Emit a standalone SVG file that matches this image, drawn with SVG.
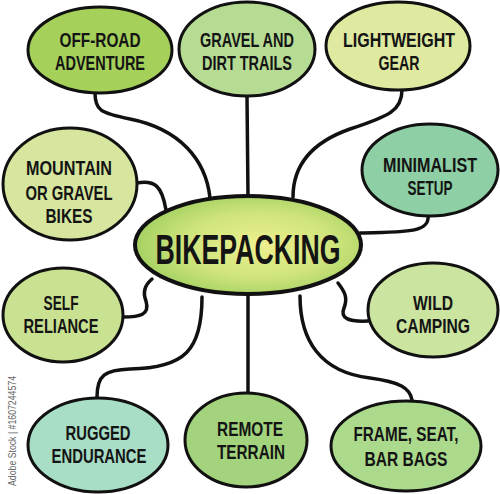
<svg xmlns="http://www.w3.org/2000/svg" width="500" height="494" viewBox="0 0 500 494">
<defs>
<radialGradient id="cg" cx="0.55" cy="0.5" r="0.6">
<stop offset="0" stop-color="#eef08e"/>
<stop offset="0.55" stop-color="#cfe47c"/>
<stop offset="1" stop-color="#9ccd5c"/>
</radialGradient>
</defs>
<style>
.n{stroke:#111;stroke-width:3}
.t{font-family:"Liberation Sans","DejaVu Sans",sans-serif;font-weight:bold;font-size:20px;fill:#141414;text-anchor:middle}
.c{fill:none;stroke:#111;stroke-width:3.5;stroke-linecap:round}
</style>
<rect width="500" height="494" fill="#fff"/>
<g id="connectors">
<path class="c" d="M95,93 C95,110 100,113 130,119 C180,129 206,160 210,198"/>
<path class="c" d="M247,97 L248,196"/>
<path class="c" d="M402,90 C402,110 390,116 350,129 C310,143 293,166 293,197"/>
<path class="c" d="M428,215 C430,232 410,232 360,233"/>
<path class="c" d="M137,183 C155,180 162,186 166,210"/>
<path class="c" d="M123,317 C140,317 150,315 146,301 C142,291 146,284 152,279"/>
<path class="c" d="M97,397 C97,375 105,370 130,369 C185,368 202,350 202,297"/>
<path class="c" d="M248,295 L248,393"/>
<path class="c" d="M300,296 C300,340 320,372 370,378 C400,382 410,388 412,400"/>
<path class="c" d="M338,283 C345,292 348,298 344,308 C340,318 348,322 368,321"/>
</g>
<g id="center">
<ellipse cx="248" cy="245" rx="113" ry="49" fill="url(#cg)" stroke="#111" stroke-width="4"/>
<text x="248" y="264" style="font-family:'Liberation Sans','DejaVu Sans',sans-serif;font-weight:bold;font-size:42px;fill:#141414;text-anchor:middle" textLength="185" lengthAdjust="spacingAndGlyphs">BIKEPACKING</text>
</g>
<g id="offroad">
<ellipse class="n" cx="100" cy="50" rx="72" ry="43" fill="#a5d05a"/>
<text class="t" x="100" y="47" textLength="81" lengthAdjust="spacingAndGlyphs">OFF-ROAD</text>
<text class="t" x="100" y="70" textLength="90" lengthAdjust="spacingAndGlyphs">ADVENTURE</text>
</g>
<g id="gravel">
<ellipse class="n" cx="247" cy="49" rx="68" ry="47" fill="#b6dc94"/>
<text class="t" x="247" y="47" textLength="94" lengthAdjust="spacingAndGlyphs">GRAVEL AND</text>
<text class="t" x="247" y="70" textLength="90" lengthAdjust="spacingAndGlyphs">DIRT TRAILS</text>
</g>
<g id="lightweight">
<ellipse class="n" cx="398" cy="46" rx="72" ry="44" fill="#dfe9a0"/>
<text class="t" x="399" y="47" textLength="112" lengthAdjust="spacingAndGlyphs">LIGHTWEIGHT</text>
<text class="t" x="399" y="70" textLength="41" lengthAdjust="spacingAndGlyphs">GEAR</text>
</g>
<g id="minimalist">
<ellipse class="n" cx="430" cy="170" rx="68" ry="46" fill="#8ecfa5"/>
<text class="t" x="430" y="172" textLength="94" lengthAdjust="spacingAndGlyphs">MINIMALIST</text>
<text class="t" x="430" y="195" textLength="45" lengthAdjust="spacingAndGlyphs">SETUP</text>
</g>
<g id="mountain">
<ellipse class="n" cx="70" cy="184" rx="67" ry="56" fill="#d6e69f"/>
<text class="t" x="69" y="175" textLength="86" lengthAdjust="spacingAndGlyphs">MOUNTAIN</text>
<text class="t" x="69" y="200" textLength="87" lengthAdjust="spacingAndGlyphs">OR GRAVEL</text>
<text class="t" x="69" y="223" textLength="47" lengthAdjust="spacingAndGlyphs">BIKES</text>
</g>
<g id="selfreliance">
<ellipse class="n" cx="63" cy="315" rx="60" ry="47" fill="#c9e291"/>
<text class="t" x="61" y="310" textLength="35" lengthAdjust="spacingAndGlyphs">SELF</text>
<text class="t" x="61" y="333" textLength="75" lengthAdjust="spacingAndGlyphs">RELIANCE</text>
</g>
<g id="rugged">
<ellipse class="n" cx="98" cy="445" rx="70" ry="47" fill="#a8ddc6"/>
<text class="t" x="98" y="440" textLength="65" lengthAdjust="spacingAndGlyphs">RUGGED</text>
<text class="t" x="99" y="463" textLength="95" lengthAdjust="spacingAndGlyphs">ENDURANCE</text>
</g>
<g id="remote">
<ellipse class="n" cx="246" cy="440" rx="61" ry="47" fill="#a3d47d"/>
<text class="t" x="250" y="436" textLength="66" lengthAdjust="spacingAndGlyphs">REMOTE</text>
<text class="t" x="251" y="459" textLength="68" lengthAdjust="spacingAndGlyphs">TERRAIN</text>
</g>
<g id="frame">
<ellipse class="n" cx="406" cy="446" rx="75" ry="45" fill="#acda8c"/>
<text class="t" x="406" y="441" textLength="105" lengthAdjust="spacingAndGlyphs">FRAME, SEAT,</text>
<text class="t" x="406" y="466" textLength="83" lengthAdjust="spacingAndGlyphs">BAR BAGS</text>
</g>
<g id="wild">
<ellipse class="n" cx="433" cy="310" rx="65" ry="47" fill="#cbe4a0"/>
<text class="t" x="433" y="310" textLength="40" lengthAdjust="spacingAndGlyphs">WILD</text>
<text class="t" x="433" y="333" textLength="74" lengthAdjust="spacingAndGlyphs">CAMPING</text>
</g>
<text x="0" y="0" transform="translate(16,486) rotate(-90)" style="font-family:'Liberation Sans',sans-serif;font-size:10.5px;fill:#666" textLength="110" lengthAdjust="spacingAndGlyphs">Adobe Stock | #1607244574</text>
</svg>
